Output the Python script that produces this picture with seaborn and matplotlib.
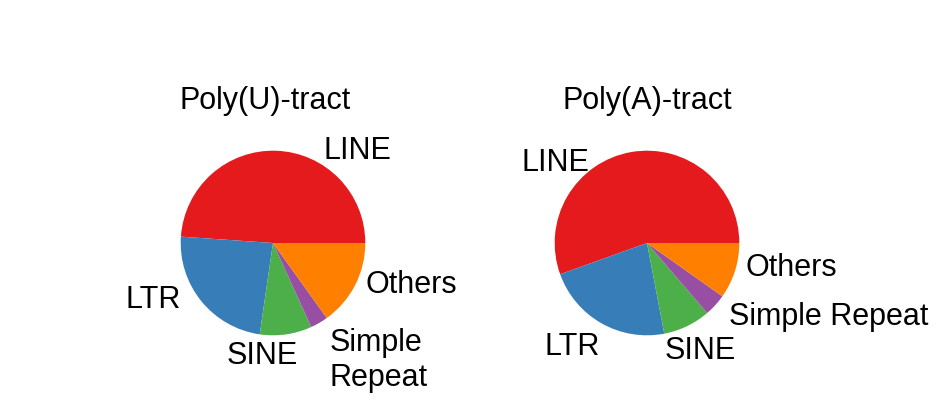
#Repeat element composition of poly(U) and poly(A) tracts
#Two pies side by side, labels placed by hand like the original figure.

import matplotlib
matplotlib.use("Agg")
import matplotlib.pyplot as plt
import seaborn as sns

# Data (percent of tracts per repeat class)
categories = ["LINE", "LTR", "SINE", "Simple Repeat", "Others"]
polyU_share = [48.9, 23.8, 9.1, 3.1, 15.1]
polyA_share = [55.5, 22.5, 8.3, 3.9, 9.8]

sns.set_theme(style="white")
plt.rcParams['font.family'] = ['Liberation Sans', 'DejaVu Sans']
plt.rcParams['text.color'] = 'black'
colors = sns.color_palette("Set1", 5)

fig = plt.figure(figsize=(9.4, 4.13), dpi=100)
W, H = 940, 413
box = 240
lim = 1.3


def make_ax(cx, cy):
    ax = fig.add_axes([(cx - box / 2) / W, (H - cy - box / 2) / H, box / W, box / H])
    ax.set_xlim(-lim, lim)
    ax.set_ylim(-lim, lim)
    ax.set_aspect("equal")
    ax.axis("off")
    return ax


fs = 22

# Poly(U)-tract
ax1 = make_ax(273, 243)
ax1.pie(polyU_share, colors=colors, startangle=0, counterclock=True,
        wedgeprops=dict(linewidth=0))
ax1.set_xlim(-lim, lim)
ax1.set_ylim(-lim, lim)
ax1.text(-0.09, 1.54, "Poly(U)-tract", fontsize=fs, ha="center", va="center")
ax1.text(0.55, 1.0, "LINE", fontsize=fs, ha="left", va="center")
ax1.text(-1.0, -0.62, "LTR", fontsize=fs, ha="right", va="center")
ax1.text(-0.12, -1.22, "SINE", fontsize=fs, ha="center", va="center")
ax1.text(0.61, -1.27, "Simple\nRepeat", fontsize=fs, ha="left", va="center",
         linespacing=1.2)
ax1.text(1.0, -0.45, "Others", fontsize=fs, ha="left", va="center")

# Poly(A)-tract
ax2 = make_ax(647, 243)
ax2.pie(polyA_share, colors=colors, startangle=0, counterclock=True,
        wedgeprops=dict(linewidth=0))
ax2.set_xlim(-lim, lim)
ax2.set_ylim(-lim, lim)
ax2.text(0.0, 1.54, "Poly(A)-tract", fontsize=fs, ha="center", va="center")
ax2.text(-1.36, 0.87, "LINE", fontsize=fs, ha="left", va="center")
ax2.text(-0.815, -1.13, "LTR", fontsize=fs, ha="center", va="center")
ax2.text(0.58, -1.17, "SINE", fontsize=fs, ha="center", va="center")
ax2.text(0.89, -0.80, "Simple Repeat", fontsize=fs, ha="left", va="center")
ax2.text(1.065, -0.27, "Others", fontsize=fs, ha="left", va="center")

for ax in (ax1, ax2):
    for t in ax.texts:
        t.set_clip_on(False)
        t.set_color("black")

fig.savefig("out.png", dpi=100, facecolor="white")
